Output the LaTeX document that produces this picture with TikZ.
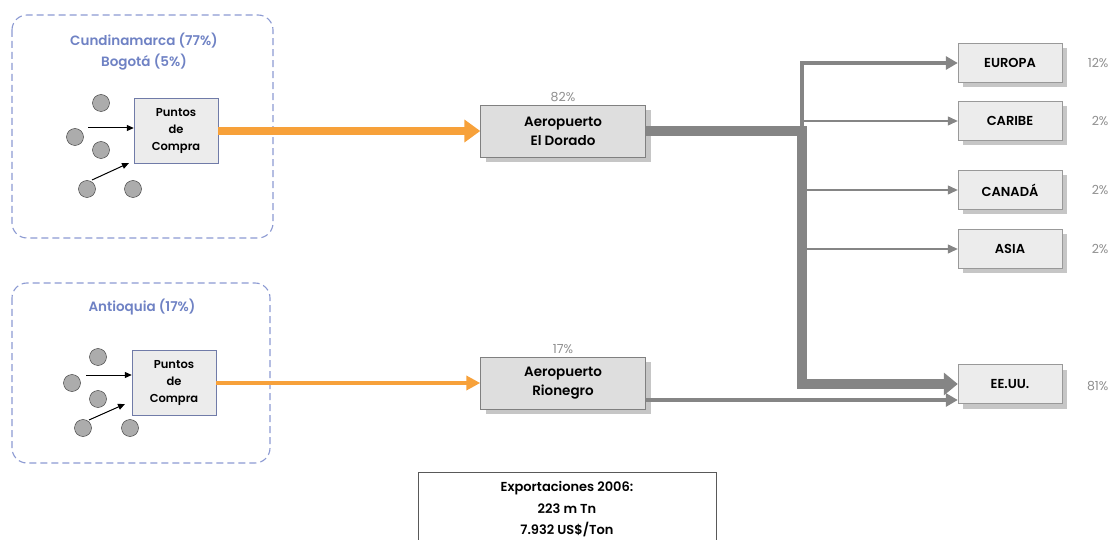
\documentclass[tikz,border=0pt]{standalone}
\usepackage{fontspec}
\setmainfont{Poppins}[BoldFont={Poppins SemiBold}]
\usetikzlibrary{arrows.meta,shadows}
\definecolor{dashblue}{HTML}{8C9AD2}
\definecolor{labelblue}{HTML}{6F82C4}
\definecolor{orng}{HTML}{F7A13A}
\definecolor{flowgray}{HTML}{858585}
\definecolor{boxgray}{HTML}{DEDEDE}
\definecolor{pctgray}{HTML}{8E8E8E}

\begin{document}
\begin{tikzpicture}[x=1pt,y=-1pt,
    region/.style={draw=dashblue, dash pattern=on 7pt off 4pt, line width=1.1pt, rounded corners=15pt},
    regionlabel/.style={text=labelblue, font=\fontsize{13.5}{15}\selectfont\bfseries},
    dot/.style={circle, draw=black!80, fill=gray!65, minimum size=17pt, inner sep=0pt},
    buy/.style={draw=dashblue!80!black, fill=gray!15, minimum width=84pt, minimum height=65pt,
      align=center, inner sep=2pt, font=\fontsize{11.5}{17}\selectfont\bfseries},
    hatch/.style={drop shadow={shadow xshift=5pt, shadow yshift=-5pt, fill=gray!45, opacity=1}},
    port/.style={hatch, draw=gray, fill=boxgray, minimum width=165pt, minimum height=52pt,
      align=center, inner sep=2pt, font=\fontsize{13.5}{19}\selectfont\bfseries},
    dest/.style={hatch, draw=gray!80, fill=gray!15, minimum width=104pt, minimum height=39pt,
      inner sep=2pt, font=\fontsize{13}{15}\selectfont\bfseries},
    pct/.style={text=pctgray, font=\fontsize{12.5}{14}\selectfont},
    pick/.style={-{Triangle[length=7pt, width=6pt]}, line width=1pt},
    orangethick/.style={draw=orng, line width=8pt, -{Triangle[length=16pt, width=22pt]}},
    orangethin/.style={draw=orng, line width=4pt, -{Triangle[length=14pt, width=14pt]}},
    thickflow/.style={draw=flowgray, line width=10pt, -{Triangle[length=14pt, width=22pt]}},
    midflow/.style={draw=flowgray, line width=4.5pt, -{Triangle[length=12pt, width=13pt]}},
    thinflow/.style={draw=flowgray, line width=1.2pt, -{Triangle[length=10pt, width=9pt]}}
  ]
  \useasboundingbox (0,0) rectangle (1112,540);

  \draw[region] (12,15) rectangle (273,238);
  \draw[region] (12,283) rectangle (270,463);
  \node[regionlabel] (cundi) at (144,41) {Cundinamarca (77\%)};
  \node[regionlabel] (bogota) at (144,62) {Bogotá (5\%)};
  \node[regionlabel] (antioquia) at (142,307) {Antioquia (17\%)};

  \foreach \px/\py [count=\i] in {101/103,75/137,101/150,87/189,133/189} {
    \node[dot] (ta\i) at (\px,\py){};
  }
  \foreach \px/\py [count=\i] in {98/357,72/383,98/399,83/428,130/428} {
    \node[dot] (tb\i) at (\px,\py){};
  }

  \node[buy] (buyA) at (176,131) {Puntos\\de\\Compra};
  \node[buy] (buyB) at (174,383) {Puntos\\de\\Compra};

  \coordinate (sa1) at (88,128);
  \coordinate (sa2) at (92,180);
  \coordinate (ea2) at (129,163);
  \coordinate (sb1) at (86,375);
  \coordinate (sb2) at (89,420);
  \coordinate (eb2) at (125,404);
  \draw[pick] (sa1) -- (sa1 -| buyA.west);
  \draw[pick] (sa2) -- (ea2);
  \draw[pick] (sb1) -- (sb1 -| buyB.west);
  \draw[pick] (sb2) -- (eb2);

  \node[port, label={[pct]above:82\%}] (dorado) at (563,131) {Aeropuerto\\El Dorado};
  \node[port, label={[pct]above:17\%}] (rionegro) at (563,383) {Aeropuerto\\Rionegro};

  \draw[orangethick] (buyA) -- (dorado);
  \draw[orangethin] (buyB) -- (rionegro);

  \node[dest] (europa) at (1010,63) {EUROPA};
  \node[dest] (caribe) at (1010,121) {CARIBE};
  \node[dest] (canada) at (1010,190) {CANADÁ};
  \node[dest] (asia) at (1010,249) {ASIA};
  \node[dest] (eeuu) at (1010,384) {EE.UU.};

  \node[pct, anchor=east] (peuropa) at (1112,63) {12\%};
  \node[pct, anchor=east] (pcaribe) at (1112,121) {2\%};
  \node[pct, anchor=east] (pcanada) at (1112,190) {2\%};
  \node[pct, anchor=east] (pasia) at (1112,249) {2\%};
  \node[pct, anchor=east] (peeuu) at (1112,386) {81\%};

  \coordinate (split) at (802,131);
  \draw[midflow] (split) |- (europa.west);
  \foreach \d in {caribe,canada,asia} {
    \draw[thinflow] (split |- \d.west) -- (\d.west);
  }
  \draw[thickflow] (dorado.east) -- (split) |- (eeuu.west);
  \draw[midflow] ([yshift=-17pt]rionegro.east) -- ([yshift=-16pt]eeuu.west);

  \node[draw=gray!70!black, line width=0.8pt, minimum width=298pt, minimum height=80pt,
    anchor=north, align=center, inner xsep=5pt, inner ysep=9pt, font=\fontsize{13}{21.5}\selectfont\bfseries]
    (expo) at (567,472) {Exportaciones 2006:\\223 m Tn\\7.932 US\$/Ton\\[14pt]};
\end{tikzpicture}
\end{document}
